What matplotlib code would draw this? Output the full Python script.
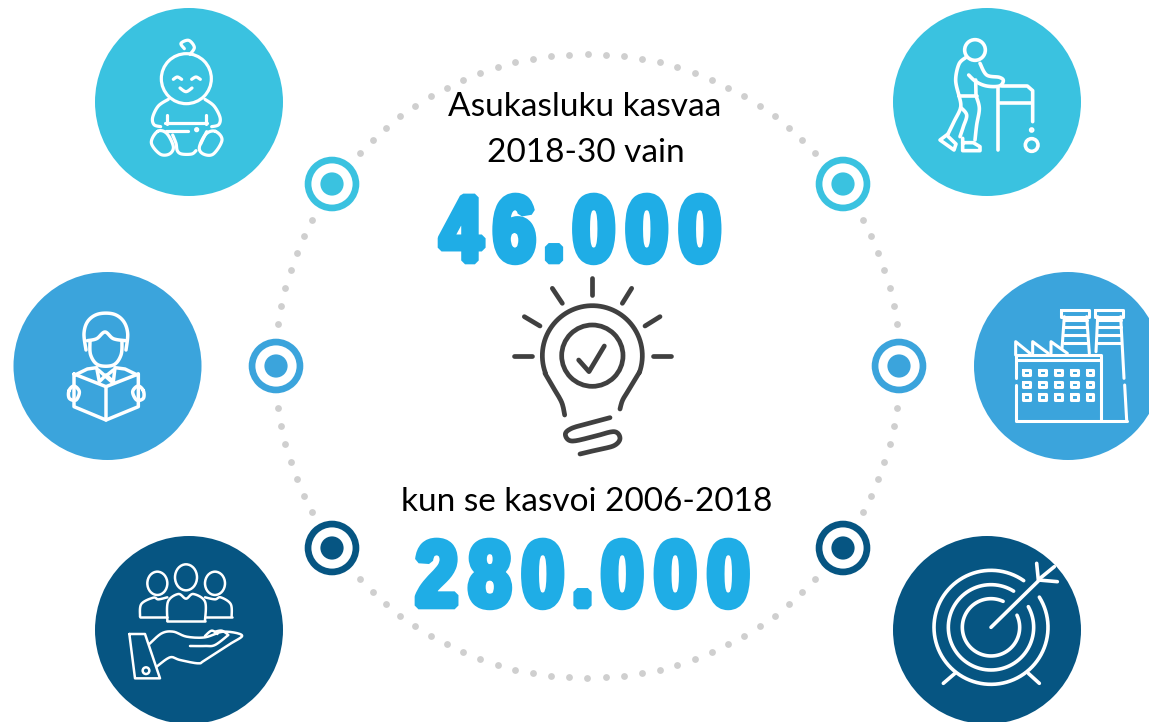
"""
Infographic: population growth 2018-30 vs 2006-18, drawn in image pixel coords.
"""
import numpy as np
import matplotlib
matplotlib.use('Agg')
import matplotlib.pyplot as plt
import matplotlib.patheffects as pe
from matplotlib.patches import Circle, Ellipse
from matplotlib.path import Path

LIGHT, MID, DARK = '#3AC2E0', '#3BA4DC', '#065582'
BLUE = '#1FADE6'
BULB = '#404040'
DOT = '#CFCFCF'

heading_top = ['Asukasluku kasvaa', '2018-30 vain']
heading_bottom = 'kun se kasvoi 2006-2018'
number_top = '46.000'
number_bottom = '280.000'

W, H = 1149, 722
fig = plt.figure(figsize=(W / 100, H / 100), dpi=100)
ax = fig.add_axes([0, 0, 1, 1])
ax.set_xlim(0, W); ax.set_ylim(H, 0); ax.axis('off')


def arc(cx, cy, r, a0, a1, n=60):
    a = np.radians(np.linspace(a0, a1, n))
    return np.c_[cx + r * np.cos(a), cy - r * np.sin(a)]


def smooth(pts, closed=False, n=14):
    # catmull-rom through the given points
    p = np.asarray(pts, float)
    if closed:
        p = np.vstack([p[-1], p, p[0], p[1]])
    else:
        p = np.vstack([p[0], p, p[-1]])
    out = []
    t = np.linspace(0, 1, n)[:, None]
    for i in range(1, len(p) - 2):
        a, b, c, d = p[i - 1], p[i], p[i + 1], p[i + 2]
        out.append(0.5 * (2 * b + (c - a) * t + (2 * a - 5 * b + 4 * c - d) * t**2
                          + (3 * b - a - 3 * c + d) * t**3))
    return np.vstack(out)


class Icon:
    def __init__(self, ox, oy, color='white', lw=2.3, z=5):
        self.ox, self.oy, self.color, self.lw, self.z = ox, oy, color, lw, z

    def xy(self, pts):
        return np.asarray(pts, float) / 3 + [self.ox, self.oy]

    def line(self, *pts):
        q = self.xy(pts)
        ax.plot(q[:, 0], q[:, 1], color=self.color, lw=self.lw, zorder=self.z,
                solid_capstyle='round', solid_joinstyle='round')

    def curve(self, *pts, closed=False):
        self.line(*smooth(pts, closed))

    def poly(self, *pts):
        self.line(*pts, pts[0])

    def circle(self, x, y, r, fill=False):
        c = self.xy([(x, y)])[0]
        ax.add_patch(Circle(c, r / 3, fc=self.color if fill else 'none', ec=self.color,
                            lw=self.lw, zorder=self.z))

    def ellipse(self, x, y, w, h):
        c = self.xy([(x, y)])[0]
        ax.add_patch(Ellipse(c, w / 3, h / 3, fc='none', ec=self.color, lw=self.lw, zorder=self.z))


class CondensedSpaced(pe.AbstractPathEffect):
    # no Impact here: squeeze each glyph inside its own cell and fatten it with a stroke
    def __init__(self, text, squeeze, stroke, spread=1.0):
        super().__init__()
        adv = [27.8 if c == '.' else 55.6 for c in text]  # Liberation Sans Bold, em = 100
        self.edges = np.r_[0, np.cumsum(adv)]
        self.squeeze, self.stroke, self.spread = squeeze, stroke, spread

    def draw_path(self, renderer, gc, tpath, affine, rgbFace=None):
        v = tpath.vertices.copy()
        k = np.clip(np.searchsorted(self.edges, v[:, 0]) - 1, 0, len(self.edges) - 2)
        mid = (self.edges[k] + self.edges[k + 1]) / 2
        centre = self.edges[-1] / 2
        v[:, 0] = centre + (mid - centre) * self.spread + (v[:, 0] - mid) * self.squeeze
        gc0 = renderer.new_gc()
        gc0.copy_properties(gc)
        gc0.set_foreground(rgbFace)
        gc0.set_linewidth(self.stroke)
        gc0.set_joinstyle('bevel')
        renderer.draw_path(gc0, Path(v, tpath.codes), affine, rgbFace)
        gc0.restore()


# ---- Dotted ring ----
CX, CY, R = 587.5, 366, 312
for a0, a1, n in [(7.8, 27.9, 7), (43.1, 136.9, 29), (152.1, 172.2, 7),
                  (187.8, 207.9, 7), (223.1, 316.9, 29), (332.1, 352.2, 7)]:
    q = arc(CX, CY, R, a0, a1, n)
    ax.scatter(q[:, 0], q[:, 1], s=24, color=DOT, lw=0, zorder=1)

# ---- Big circles and ring markers ----
for (x, y), c in zip([(189, 102), (987, 102), (107.5, 366), (1068, 366), (189, 630), (987, 630)],
                     [LIGHT, LIGHT, MID, MID, DARK, DARK]):
    ax.add_patch(Circle((x, y), 94, fc=c, ec='none', zorder=2))
for (x, y), c in zip([(332, 184), (843, 184), (276, 366), (899, 366), (332, 548), (843, 548)],
                     [LIGHT, LIGHT, MID, MID, DARK, DARK]):
    ax.add_patch(Circle((x, y), 27.3, fc=c, ec='none', zorder=3))
    ax.add_patch(Circle((x, y), 20.6, fc='white', ec='none', zorder=3))
    ax.add_patch(Circle((x, y), 11.6, fc=c, ec='none', zorder=3))

# ---- Baby ----
i = Icon(90, 0)
i.circle(289, 236, 75)
i.curve((300, 163), (313, 142), (296, 121), (273, 130), (283, 146))
i.curve((250, 238), (262, 231), (275, 238))
i.curve((305, 238), (318, 231), (331, 238))
i.curve((270, 264), (288, 275), (306, 264))
i.curve((235, 298), (205, 318), (188, 352), (192, 374), (212, 380))
i.curve((345, 298), (372, 318), (390, 352), (386, 374), (365, 380))
i.line((232, 345), (232, 372)); i.line((347, 345), (347, 372))
i.line((225, 370), (350, 370))
i.line((228, 393), (295, 393))
i.circle(320, 389, 3, fill=True)
i.curve((248, 405), (258, 430), (262, 452), (275, 462), (305, 462), (318, 452))
i.curve((350, 395), (340, 415), (332, 432))
i.curve((203, 394), (230, 400), (250, 440), (238, 462), (210, 462), (184, 428), closed=True)
i.curve((376, 394), (396, 420), (370, 462), (340, 462), (328, 442), (348, 402), closed=True)

# ---- Walker ----
i = Icon(810, 0, lw=2.6)
i.circle(495, 150, 31)
i.curve((468, 172), (447, 192), (437, 240), (447, 287))
i.curve((510, 190), (530, 225), (568, 232), (580, 242), (568, 258), (530, 258), (498, 245), (476, 225))
i.line((497, 240), (498, 287))
i.line((447, 287), (500, 287))
i.curve((447, 287), (452, 322), (432, 365), (414, 402))
i.line((414, 402), (390, 420), (432, 450), (438, 432), (415, 410))
i.curve((452, 322), (470, 345), (460, 380), (450, 410))
i.curve((498, 287), (508, 325), (500, 375), (495, 420))
i.line((458, 415), (458, 452), (510, 452), (510, 440), (490, 428), (458, 428))
i.line((564, 265), (564, 450))
i.line((575, 258), (652, 258), (668, 272), (668, 365))
i.line((570, 310), (665, 310))
i.circle(665, 390, 3, fill=True)
i.circle(665, 435, 19)

# ---- Student with book ----
i = Icon(0, 270, lw=2.5)
i.curve((258, 240), (252, 190), (264, 153), (295, 132), (340, 132), (370, 153), (383, 190), (378, 240))
i.curve((262, 212), (290, 206), (315, 186), (340, 206), (376, 212))
i.curve((270, 212), (272, 255), (295, 285), (340, 285), (363, 255), (366, 212))
i.line((225, 315), (262, 297), (290, 293), (298, 335), (318, 315), (340, 335), (345, 293), (375, 297), (412, 315))
i.line((295, 300), (335, 335)); i.line((340, 300), (318, 318))
i.line((222, 312), (318, 350), (318, 450), (222, 410), (222, 312))
i.line((415, 312), (318, 350)); i.line((318, 450), (415, 410), (415, 312))
i.curve((207, 362), (222, 348), (238, 365), (228, 390), (208, 385), closed=True)
i.curve((430, 362), (414, 348), (398, 365), (410, 390), (430, 385), closed=True)

# ---- Factory ----
i = Icon(860, 270, lw=2.2)
i.poly((603, 120), (688, 120), (688, 140), (603, 140))
i.poly((705, 120), (790, 120), (790, 140), (705, 140))
i.line((613, 140), (606, 235)); i.line((680, 140), (688, 250))
i.line((713, 140), (708, 245)); i.line((782, 140), (792, 325)); i.line((794, 345), (800, 450))
for y in (150, 172, 195, 218):
    i.line((612, y), (680, y)); i.line((714, y), (782, y))
i.line((467, 255), (467, 215), (510, 250))
i.line((518, 250), (518, 215), (565, 250))
i.line((573, 250), (573, 215), (622, 250))
i.poly((467, 255), (722, 255), (722, 270), (467, 270))
i.line((467, 270), (467, 325)); i.line((467, 345), (467, 452), (800, 452))
i.line((722, 270), (722, 452))
for x in (500, 547, 595, 643, 690):
    for y in (307, 344, 381):
        i.poly((x - 10, y - 8), (x + 10, y - 8), (x + 10, y + 8), (x - 10, y + 8))

# ---- People on a hand ----
i = Icon(90, 520, lw=1.8)
i.ellipse(202, 190, 60, 70); i.ellipse(288, 172, 66, 78); i.ellipse(375, 190, 60, 70)
i.curve((150, 290), (154, 252), (190, 233), (205, 238), (232, 232))
i.line((150, 290), (232, 290))
i.curve((232, 303), (234, 245), (265, 222), (288, 236), (310, 222), (345, 245), (345, 303))
i.line((232, 303), (345, 303))
i.curve((345, 232), (375, 238), (392, 232), (422, 252), (425, 290))
i.line((345, 290), (425, 290))
i.poly((118, 342), (165, 342), (210, 475), (135, 475))
i.circle(168, 452, 10)
i.curve((178, 372), (215, 340), (250, 335), (290, 350), (345, 352), (400, 335), (456, 346),
        (420, 372), (345, 420), (325, 430), (270, 420), (240, 412), (200, 440))
i.curve((300, 378), (345, 378), (375, 375), (415, 345))
i.curve((345, 348), (365, 332), (382, 342))
i.curve((375, 335), (395, 332), (412, 342))

# ---- Target ----
i = Icon(810, 520, lw=2.6)
for r, a0, a1 in [(171, 55, 392), (128, 58, 389), (86, 65, 385)]:
    i.line(*arc(543, 322, r, a0, a1, 90))
i.line((543, 322), (690, 178))
i.line((680, 130), (685, 180), (742, 185))
i.line((690, 175), (733, 140))
i.line((435, 460), (400, 490)); i.line((655, 460), (688, 490))

# ---- Light bulb ----
i = Icon(490, 265, color=BULB, lw=3.4)
for a, b in [((307, 38), (307, 90)), ((187, 70), (217, 115)), ((103, 155), (150, 183)),
             ((72, 272), (125, 272)), ((425, 70), (397, 115)), ((510, 155), (465, 183)),
             ((490, 272), (542, 272))]:
    i.line(a, b)
i.line(*np.vstack([smooth([(224, 450), (215, 412), (190, 368), (165, 325)]),
                   arc(307, 272, 150, 200, -20),
                   smooth([(448, 322), (418, 372), (398, 405), (390, 432)])]))
i.circle(307, 272, 92)
i.line((266, 285), (297, 320), (343, 243))
i.line(*smooth([(360, 458), (300, 474), (245, 490), (226, 508), (245, 528), (310, 515), (372, 500),
                (390, 520), (372, 542), (320, 555), (270, 567)]))

# ---- Text ----
body = dict(family='Lato', color='black', fontsize=24, ha='center', va='baseline', zorder=6)
ax.text(585, 116, heading_top[0], **body)
ax.text(586, 162, heading_top[1], **body)
ax.text(586.5, 511, heading_bottom, **body)

big = dict(family='Liberation Sans', weight='bold', fontsize=66, color=BLUE,
           ha='center', va='baseline', zorder=6)
t = ax.text(580.5, 260.5, number_top, **big)
t.set_path_effects([CondensedSpaced(number_top, 0.82, 5.5, spread=1.04)])
t = ax.text(582.5, 605.5, number_bottom, **big)
t.set_path_effects([CondensedSpaced(number_bottom, 0.82, 5.5, spread=1.04)])

fig.savefig('out.png', dpi=100)
